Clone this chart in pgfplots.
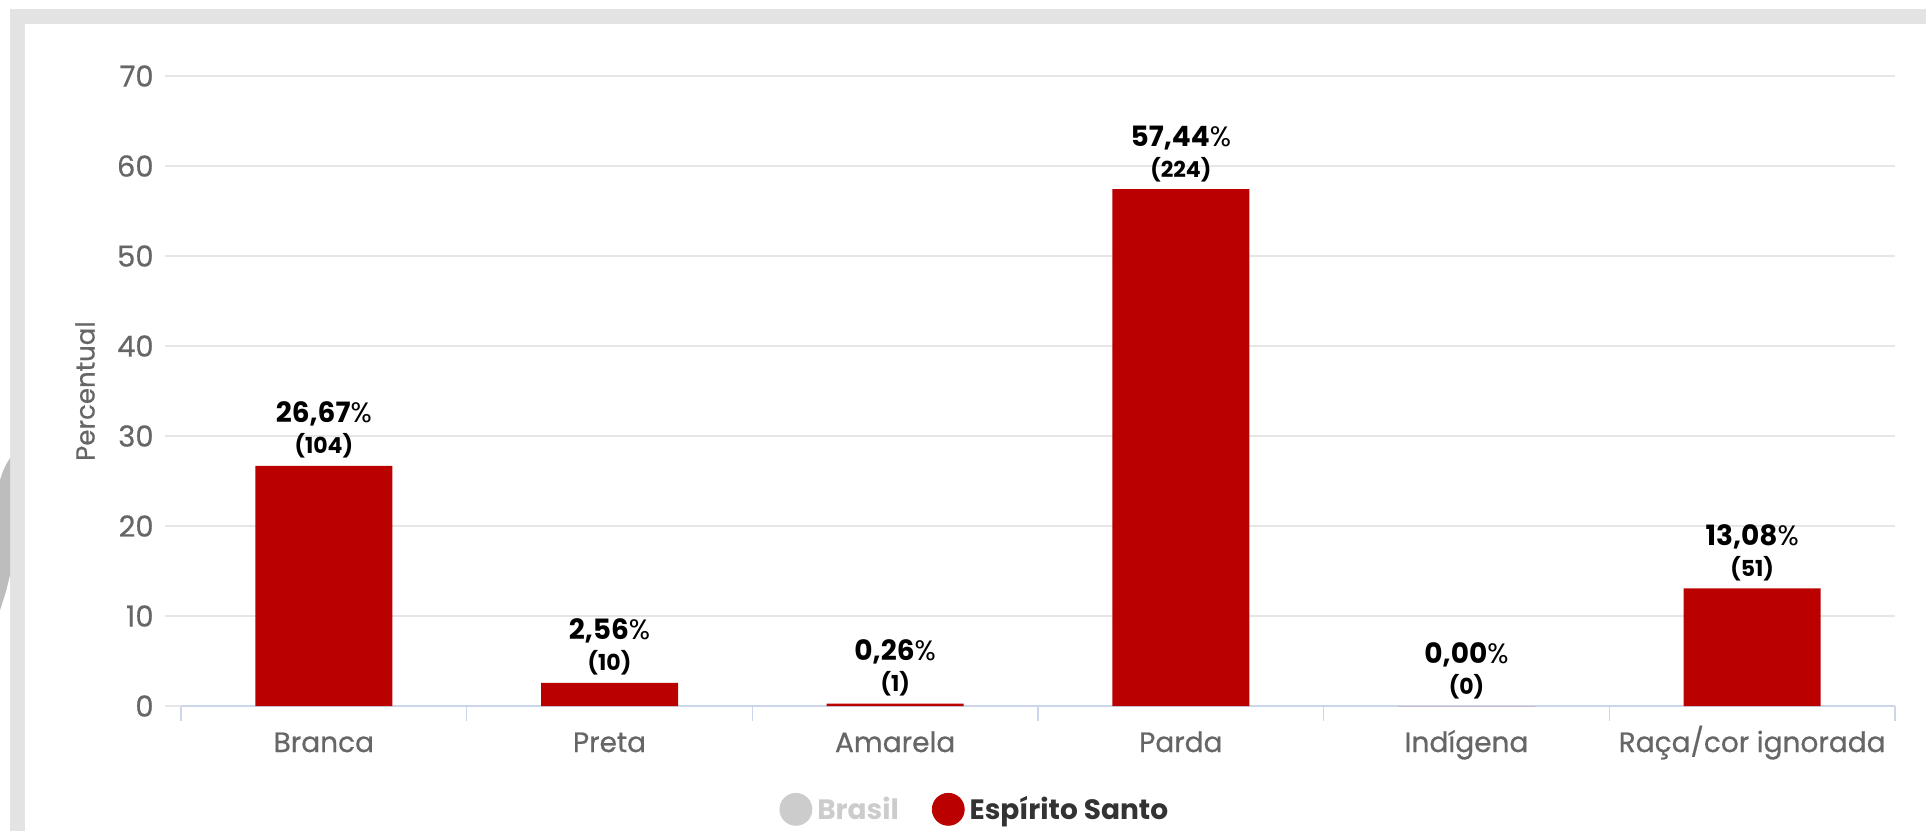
\documentclass[border=0pt]{standalone}
\usepackage{pgfplots}
\pgfplotsset{compat=1.18}
\usepackage{pgfplotstable}
\usepackage{fontspec}
\setmainfont{Poppins}
\newfontfamily\medfont[FakeBold=0.6]{Poppins}

\definecolor{barred}{HTML}{BB0000}
\definecolor{gridc}{HTML}{E6E6E6}
\definecolor{axisc}{HTML}{CCD6EB}
\definecolor{labc}{HTML}{666666}
\definecolor{framec}{HTML}{E3E3E3}
\definecolor{blobc}{HTML}{BDBDBD}
\definecolor{legdark}{HTML}{333333}
\definecolor{leglight}{HTML}{CCCCCC}

% x = category index, y = percent, n = count
\pgfplotstableread{
x y n
0 26.67 104
1 2.56 10
2 0.26 1
3 57.44 224
4 0.00 0
5 13.08 51
}\racadata

\begin{document}
\begin{tikzpicture}
\useasboundingbox (0,0) rectangle (963pt,-415.5pt);
\fill[white] (0,0) rectangle (963pt,-415.5pt);
% grey frame of the screenshot
\fill[framec] (5pt,-4.5pt) rectangle (963pt,-12pt);
\fill[framec] (5pt,-4.5pt) rectangle (12.5pt,-415.5pt);
\fill[blobc] (0pt,-240pt) .. controls (2pt,-234pt) .. (5pt,-229pt)
  -- (5pt,-287.5pt) .. controls (3pt,-296pt) .. (0pt,-305pt) -- cycle;
\begin{axis}[
  at={(90.5pt,-353pt)}, anchor=south west,
  scale only axis, width=857pt, height=315pt,
  xmin=-0.5, xmax=5.5, ymin=0, ymax=70,
  /pgf/number format/assume math mode=true,
  axis x line*=bottom, axis y line*=left,
  x axis line style={axisc, line width=0.6pt, -},
  y axis line style={draw=none},
  ytick={0,10,...,70},
  ymajorgrids, grid style={gridc, line width=0.7pt},
  tick align=outside,
  major tick length=8pt,
  ytick style={gridc, line width=0.7pt},
  xtick={0,...,5},
  xticklabels={Branca,Preta,Amarela,Parda,Indígena,Raça/cor ignorada},
  major x tick style={draw=none},
  minor xtick={-0.5,0.5,...,5.5},
  minor x tick style={axisc, line width=0.6pt},
  minor tick length=7.5pt,
  yticklabel style={font=\medfont\fontsize{14.5}{16}\selectfont, text=labc, inner sep=0pt, anchor=east, xshift=-5.5pt},
  xticklabel style={font=\medfont\fontsize{14}{16}\selectfont, text=labc, inner sep=0pt, anchor=base, yshift=-15pt},
  ylabel={Percentual},
  ylabel style={font=\medfont\fontsize{13}{15}\selectfont, text=labc, at={(axis description cs:-0.056,0.5)}, anchor=center},
  legend style={at={(0.464,-0.164)}, anchor=center, draw=none, fill=none,
    legend columns=2, font=\fontsize{14}{16}\selectfont\bfseries,
    /tikz/every even column/.append style={column sep=14pt},
    nodes={inner xsep=2.5pt, inner ysep=0pt}},
]
\addplot[ybar, bar width=68.5pt, fill=barred, draw=none, forget plot,
  point meta=explicit symbolic,
  visualization depends on={y \as \yval},
  nodes near coords={{\bfseries\pgfmathprintnumber[fixed,fixed zerofill,precision=2,use comma]{\yval}}\%\\{\fontsize{11}{15.5}\selectfont\bfseries(\pgfplotspointmeta)}},
  nodes near coords style={anchor=south, inner sep=0pt, align=center, yshift=3.5pt,
    text=black, font=\fontsize{14}{15.5}\selectfont},
] table[x=x, y=y, meta=n] {\racadata};
\addlegendimage{legend image code/.code={\fill[leglight] (8pt,0pt) circle (8pt);}}
\addlegendentry[text=leglight]{Brasil}
\addlegendimage{legend image code/.code={\fill[barred] (8pt,0pt) circle (8pt);}}
\addlegendentry[text=legdark]{Espírito Santo}
\end{axis}
\end{tikzpicture}
\end{document}
